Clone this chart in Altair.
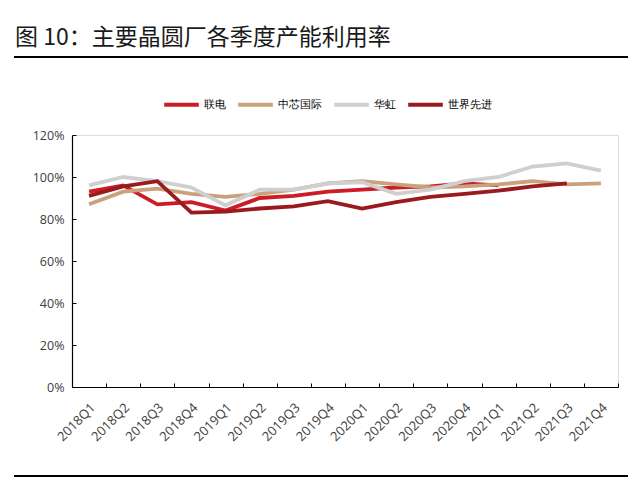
import altair as alt
import pandas as pd

quarters = ["2018Q1", "2018Q2", "2018Q3", "2018Q4",
            "2019Q1", "2019Q2", "2019Q3", "2019Q4",
            "2020Q1", "2020Q2", "2020Q3", "2020Q4",
            "2021Q1", "2021Q2", "2021Q3", "2021Q4"]

series_names = ["联电", "中芯国际", "华虹", "世界先进"]
series_colors = ["#CC1C26", "#C9A27C", "#CFCFCF", "#9A1B1E"]

umc = [93, 96, 87, 88, 84, 90, 91, 93, 94, 95, 95.5, 97, 96, None, None, None]
smic = [87, 93, 94.5, 92, 90.5, 92, 94, 97, 98, 96.5, 95, 95.5, 96.5, 98, 96.5, 97]
hua_hong = [96, 100, 98, 95, 86.5, 94, 94, 97, 97.5, 92, 94, 98, 100, 105, 106.5, 103]
vis = [91, 95.5, 98, 83, 83.5, 85, 86, 88.5, 85, 88, 90.5, 92, 93.5, 95.5, 97, None]

title_text = "图 10：主要晶圆厂各季度产能利用率"

rows = []
for name, vals in zip(series_names, [umc, smic, hua_hong, vis]):
    for q, v in zip(quarters, vals):
        if v is not None:
            rows.append({"quarter": q, "series": name, "value": v})
df = pd.DataFrame(rows)

W, H = 546, 252
FONT = "Open Sans"

x_enc = alt.X("quarter:N", sort=quarters, bandPosition=0.5,
              scale=alt.Scale(type="band", paddingInner=0, paddingOuter=0),
              axis=alt.Axis(title=None, labelAngle=-45, labelFontSize=13,
                            labelFont=FONT, labelColor="#404040",
                            labelPadding=14, ticks=False, domainColor="#000000",
                            domainWidth=1.2, labelAlign="right",
                            labelBaseline="top", orient="bottom"))
y_enc = alt.Y("value:Q", scale=alt.Scale(domain=[0, 120]),
              axis=alt.Axis(title=None, values=[0, 20, 40, 60, 80, 100, 120],
                            labelExpr="datum.value + '%'", grid=False,
                            ticks=False, labelFontSize=12.5, labelFont=FONT,
                            labelColor="#404040", labelPadding=8,
                            domainColor="#000000", domainWidth=1.2,
                            orient="left"))

color_enc = alt.Color("series:N",
                      scale=alt.Scale(domain=series_names, range=series_colors),
                      legend=alt.Legend(title=None, orient="none",
                                        direction="horizontal",
                                        legendX=90, legendY=-50,
                                        symbolType="stroke",
                                        symbolStrokeWidth=4,
                                        symbolSize=1200,
                                        labelFontSize=11, labelFont=FONT,
                                        labelColor="#000000",
                                        labelOffset=3, columnPadding=4,
                                        padding=0))

lines = alt.Chart(df).mark_line(strokeWidth=3.8, strokeJoin="miter").encode(
    x=x_enc, y=y_enc, color=color_enc)

tick_x = alt.X("quarter:N", sort=quarters, bandPosition=0.5,
               scale=alt.Scale(type="band", paddingInner=0, paddingOuter=0),
               axis=alt.Axis(title=None, labels=False, domain=False, ticks=True,
                             tickSize=4, tickColor="#000000", tickWidth=1,
                             tickBand="extent", offset=-4, orient="bottom"))
tick_y = alt.Y("value:Q", scale=alt.Scale(domain=[0, 120]),
               axis=alt.Axis(title=None, labels=False, domain=False, ticks=True,
                             values=[0, 20, 40, 60, 80, 100, 120], grid=False,
                             tickSize=4, tickColor="#000000", tickWidth=1,
                             offset=-4, orient="left"))
ticks = alt.Chart(df).mark_line(opacity=0).encode(x=tick_x, y=tick_y)

tdf = pd.DataFrame({"t": [title_text]})
title = alt.Chart(tdf).mark_text(align="left", baseline="middle",
                                 fontSize=23, font="Noto Sans CJK SC",
                                 color="#1a1a1a").encode(
    text="t:N", x=alt.value(-57), y=alt.value(-97))
top_rule = alt.Chart(tdf).mark_rule(color="#000000", strokeWidth=2).encode(
    x=alt.value(-58), x2=alt.value(556), y=alt.value(-78))
bottom_rule = alt.Chart(tdf).mark_rule(color="#000000", strokeWidth=2).encode(
    x=alt.value(-58), x2=alt.value(556), y=alt.value(341))

chart = alt.layer(lines, ticks, title, top_rule, bottom_rule).resolve_axis(
    x="independent", y="independent").properties(
    width=W, height=H,
    autosize=alt.AutoSizeParams(type="none"),
    padding={"left": 64, "top": 127, "right": 14, "bottom": 91},
).configure_view(stroke=None).configure(background="#ffffff")

chart.save("out.html", embed_options={"renderer": "svg", "actions": False})
